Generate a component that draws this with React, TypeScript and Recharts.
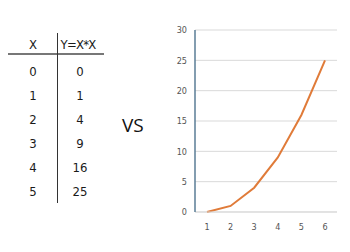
import React from 'react';
import {CartesianGrid, Line, LineChart, XAxis, YAxis} from 'recharts';

const xValues = [0, 1, 2, 3, 4, 5];
const yValues = [0, 1, 4, 9, 16, 25];
const chartLabels = ['1', '2', '3', '4', '5', '6'];
const yTicks = [0, 5, 10, 15, 20, 25, 30];

const data = chartLabels.map((label, i) => ({label, y: yValues[i]}));

const NARROW = '"DejaVu Sans", sans-serif';

const ROW_TOP = 63;
const ROW_STEP = 24;

const cell = (left: number, top: number, text: string | number, key: string, spacing = 0) => (
    <div
        key={key}
        style={{
            position: 'absolute',
            left: left - 30,
            top,
            width: 60,
            textAlign: 'center',
            fontFamily: NARROW,
            fontStretch: 'condensed',
            fontSize: 13,
            letterSpacing: spacing,
            lineHeight: '18px',
            color: '#1a1a1a',
        }}
    >
        {text}
    </div>
);

const App = () => {
    return (
        <div style={{position: 'absolute', left: 0, top: 0, width: 350, height: 252, background: '#fff'}}>
            {cell(33, 36, 'X', 'hx')}
            {cell(78, 36, 'Y=X*X', 'hy', -0.8)}
            <div style={{position: 'absolute', left: 8, top: 53, width: 96, height: 2, background: '#777'}}/>
            <div style={{position: 'absolute', left: 57, top: 33, width: 1, height: 170, background: '#333'}}/>
            {xValues.map((x, i) => cell(33, ROW_TOP + i * ROW_STEP, x, 'x' + i))}
            {yValues.map((y, i) => cell(80, ROW_TOP + i * ROW_STEP, y, 'y' + i))}

            <div
                style={{
                    position: 'absolute',
                    left: 122,
                    top: 112,
                    fontFamily: '"Open Sans", sans-serif',
                    fontSize: 19,
                    lineHeight: '26px',
                    color: '#111',
                }}
            >
                VS
            </div>

            <div style={{position: 'absolute', left: 160, top: 20}}>
                <LineChart width={185} height={215} data={data} margin={{top: 10, right: 8, left: 10, bottom: 3}}>
                    <CartesianGrid vertical={false} stroke="#d9d9d9"/>
                    <XAxis
                        dataKey="label"
                        height={20}
                        padding={{left: 12, right: 12}}
                        tickLine={false}
                        tickMargin={6}
                        axisLine={{stroke: '#d9d9d9'}}
                        tick={{fontSize: 9, fill: '#555', fontFamily: NARROW, fontStretch: 'condensed'}}
                    />
                    <YAxis
                        width={25}
                        domain={[0, 30]}
                        ticks={yTicks}
                        tickLine={false}
                        axisLine={{stroke: '#5a7d96', strokeWidth: 1.5}}
                        tick={{fontSize: 9, fill: '#555', fontFamily: NARROW, fontStretch: 'condensed'}}
                    />
                    <Line
                        type="linear"
                        dataKey="y"
                        stroke="#e07b39"
                        strokeWidth={2}
                        dot={false}
                        isAnimationActive={false}
                    />
                </LineChart>
            </div>
        </div>
    );
};

export default App;
